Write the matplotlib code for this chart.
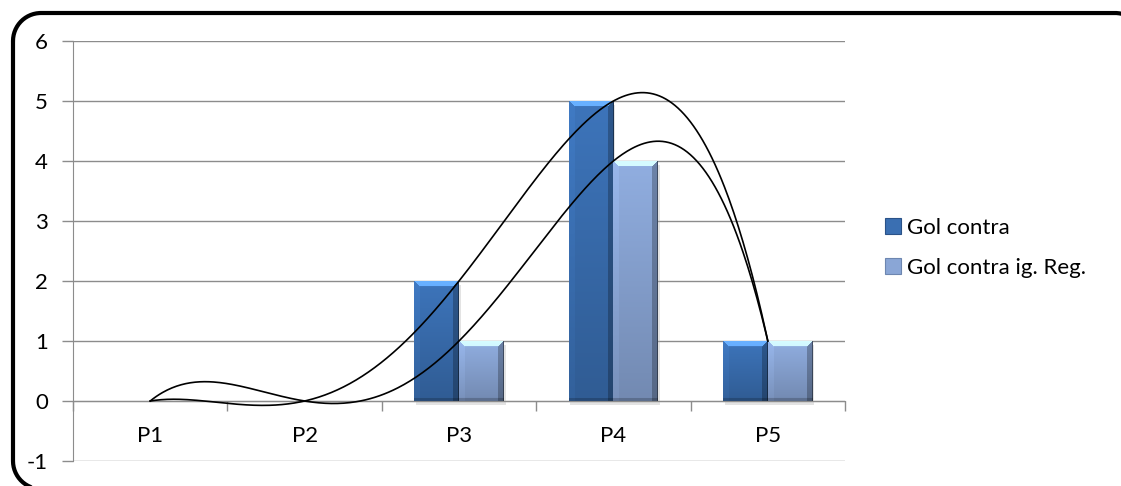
import numpy as np
import matplotlib
matplotlib.use("Agg")
import matplotlib.pyplot as plt
from matplotlib.patches import Patch

categories = ["P1", "P2", "P3", "P4", "P5"]
gol_contra = [0, 0, 2, 5, 1]
gol_contra_reg = [0, 0, 1, 4, 1]
series_names = ["Gol contra", "Gol contra ig. Reg."]
y_ticks = [-1, 0, 1, 2, 3, 4, 5, 6]

dark = np.array([0x3a, 0x6f, 0xb2]) / 255
light = np.array([0x8a, 0xa6, 0xd6]) / 255

plt.rcParams['font.family'] = ['Lato', 'DejaVu Sans']
FS = 16

W, H = 1121, 486
fig = plt.figure(figsize=(W / 100, H / 100), dpi=100)

# background axes in pixel units (y downwards) for the rounded frame
bg = fig.add_axes([0, 0, 1, 1], zorder=-5)
bg.set_xlim(0, W)
bg.set_ylim(H, 0)
bg.axis('off')
L, T, R, B, r = 13.0, 13.0, 1143.0, 489.0, 28.0


def arc(cx, cy, a0, a1):
    t = np.radians(np.linspace(a0, a1, 30))
    return cx + r * np.cos(t), cy + r * np.sin(t)


segs = [
    arc(L + r, T + r, 180, 270),
    (np.array([L + r, R - r]), np.array([T, T])),
    arc(R - r, T + r, 270, 360),
    (np.array([R, R]), np.array([T + r, B - r])),
    arc(R - r, B - r, 0, 90),
    (np.array([R - r, L + r]), np.array([B, B])),
    arc(L + r, B - r, 90, 180),
    (np.array([L, L]), np.array([B - r, T + r])),
]
fx = np.concatenate([s[0] for s in segs])
fy = np.concatenate([s[1] for s in segs])
bg.plot(fx, fy, color='black', lw=3.0, clip_on=False, solid_capstyle='round')

ax = fig.add_axes([73 / W, 25 / H, (845 - 73) / W, (461 - 41) / H])
ax.patch.set_alpha(0)

x = np.arange(len(categories))
bw = 0.29
grid_c = "#8c8c8c"

ax.set_xlim(-0.5, len(categories) - 0.5)
ax.set_ylim(-1, 6)
ax.set_yticks(y_ticks)
ax.set_yticklabels([str(v) for v in y_ticks], fontsize=FS)
for v in y_ticks:
    ax.axhline(v, color=grid_c, lw=1.0, zorder=0)

ax.spines['top'].set_visible(False)
ax.spines['right'].set_visible(False)
ax.spines['bottom'].set_position(('data', 0))
ax.spines['bottom'].set_color(grid_c)
ax.spines['left'].set_color(grid_c)
ax.tick_params(axis='y', length=8, color=grid_c, pad=10, width=1)
ax.set_xticks(np.arange(-0.5, len(categories), 1.0))
ax.set_xticklabels([])
ax.tick_params(axis='x', which='major', length=7, color=grid_c, width=1, direction='out')
ax.set_xticks(x, minor=True)
ax.set_xticklabels(categories, minor=True, fontsize=FS)
ax.tick_params(axis='x', which='minor', length=0, pad=18)


def shade_bar(rect, base):
    h_data = rect.get_height()
    if h_data <= 0:
        return
    hp = max(int(round(h_data * 60)), 2)
    wp = 45
    rows, cols = np.mgrid[0:hp, 0:wp]
    fac = 1.05 - 0.22 * rows / max(hp - 1, 1)
    img = base[None, None, :] * fac[:, :, None]
    bev = 6
    top = (rows < bev) & (cols >= rows) & (cols < wp - rows)
    left = (cols < bev) & (rows > cols)
    right = (cols >= wp - bev) & (rows > (wp - 1 - cols))
    bottom = rows >= hp - 3
    img[top] = np.clip(img[top] * 1.3 + 0.1, 0, 1)
    img[left] = np.clip(img[left] * 1.05, 0, 1)
    img[right] = img[right] * 0.75
    img[bottom] = img[bottom] * 0.8
    img[:, -1] = img[:, -1] * 0.6
    img = np.clip(img, 0, 1)
    x0 = rect.get_x()
    im = ax.imshow(img, extent=(x0, x0 + rect.get_width(), 0, h_data),
                   aspect='auto', zorder=2.5, interpolation='bilinear')
    im.set_clip_path(rect)


for vals, off, col in [(gol_contra, -bw / 2, dark), (gol_contra_reg, bw / 2, light)]:
    ax.bar(x + off + 0.012, vals, bw, bottom=-0.06, color='#b0b0b0', alpha=0.35,
           zorder=1.5, linewidth=0)
    bars = ax.bar(x + off, vals, bw, color=col, zorder=2, linewidth=0)
    for rr in bars:
        shade_bar(rr, col)

ax.set_xlim(-0.5, len(categories) - 0.5)
ax.set_ylim(-1, 6)
xs = np.linspace(0, len(categories) - 1, 400)
for vals in [gol_contra, gol_contra_reg]:
    coef = np.polyfit(x, vals, len(categories) - 1)
    ax.plot(xs, np.polyval(coef, xs), color='black', lw=1.2, zorder=4)

handles = [Patch(facecolor=dark, edgecolor='#2a5288', lw=0.8),
           Patch(facecolor=light, edgecolor='#6d86b0', lw=0.8)]
fig.legend(handles, series_names, loc='center left', bbox_to_anchor=(885 / W, 1 - 248 / H),
           frameon=False, fontsize=FS, handlelength=0.7, handleheight=0.7,
           handletextpad=0.3, labelspacing=0.9, borderaxespad=0, borderpad=0)

fig.savefig("out.png", dpi=100)
